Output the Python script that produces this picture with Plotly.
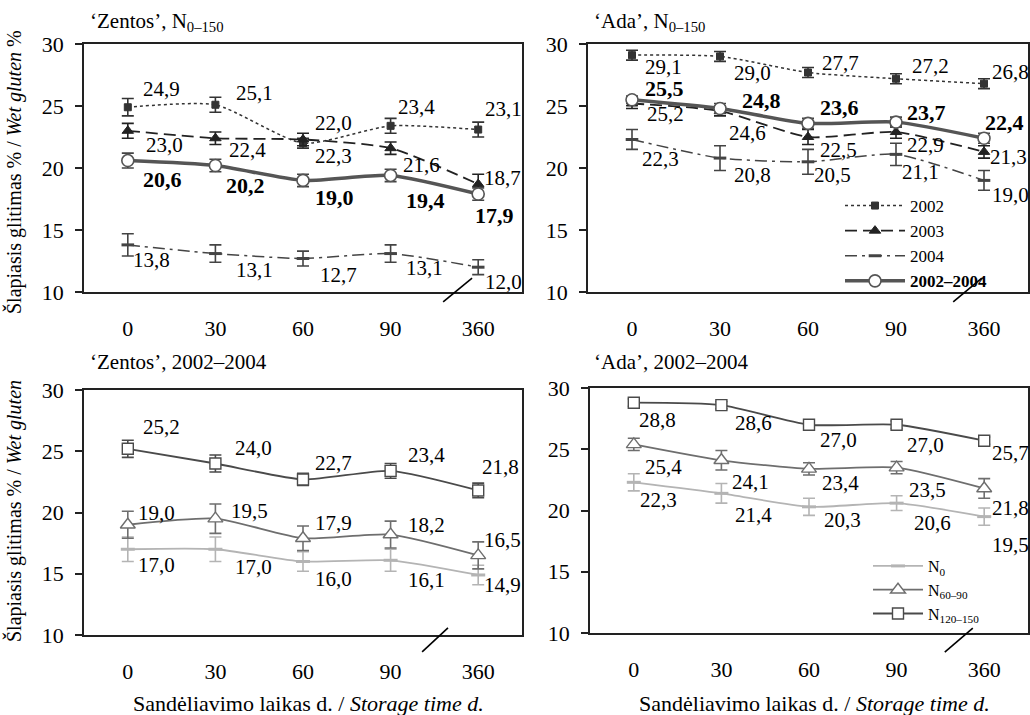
import plotly.graph_objects as go

days = ["0", "30", "60", "90", "360"]

# 'Zentos', N0-150, by year
zen_2002 = [24.9, 25.1, 22.0, 23.4, 23.1]
zen_2003 = [23.0, 22.4, 22.3, 21.6, 18.7]
zen_2004 = [13.8, 13.1, 12.7, 13.1, 12.0]
zen_mean = [20.6, 20.2, 19.0, 19.4, 17.9]
zen_2002_err = [0.7, 0.6, 0.4, 0.6, 0.6]
zen_2003_err = [0.6, 0.5, 0.5, 0.5, 0.8]
zen_2004_err = [0.9, 0.7, 0.6, 0.7, 0.6]
zen_mean_err = [0.6, 0.5, 0.5, 0.5, 0.5]

# 'Ada', N0-150, by year
ada_2002 = [29.1, 29.0, 27.7, 27.2, 26.8]
ada_2003 = [25.2, 24.6, 22.5, 22.9, 21.3]
ada_2004 = [22.3, 20.8, 20.5, 21.1, 19.0]
ada_mean = [25.5, 24.8, 23.6, 23.7, 22.4]
ada_2002_err = [0.4, 0.4, 0.4, 0.4, 0.4]
ada_2003_err = [0.4, 0.4, 0.6, 0.5, 0.5]
ada_2004_err = [0.8, 1.0, 1.0, 0.9, 0.8]
ada_mean_err = [0.3, 0.4, 0.4, 0.4, 0.4]

# 'Zentos', 2002-2004, by N rate
zen_n0 = [17.0, 17.0, 16.0, 16.1, 14.9]
zen_n60 = [19.0, 19.5, 17.9, 18.2, 16.5]
zen_n120 = [25.2, 24.0, 22.7, 23.4, 21.8]
zen_n0_err = [1.0, 1.0, 0.8, 0.9, 0.8]
zen_n60_err = [1.1, 1.2, 1.0, 1.1, 1.1]
zen_n120_err = [0.7, 0.7, 0.5, 0.6, 0.6]

# 'Ada', 2002-2004, by N rate
ada_n0 = [22.3, 21.4, 20.3, 20.6, 19.5]
ada_n60 = [25.4, 24.1, 23.4, 23.5, 21.8]
ada_n120 = [28.8, 28.6, 27.0, 27.0, 25.7]
ada_n0_err = [0.7, 0.8, 0.7, 0.6, 0.7]
ada_n60_err = [0.5, 0.8, 0.5, 0.5, 0.8]
ada_n120_err = [0.3, 0.3, 0.3, 0.3, 0.3]

FONT = '"Liberation Serif", "Times New Roman", Times, serif'
fig = go.Figure()


def lab(vals, ax, offs, bold=False, size=21):
    xr = "x" if ax == 1 else f"x{ax}"
    yr = "y" if ax == 1 else f"y{ax}"
    for i, (v, (dx, dy)) in enumerate(zip(vals, offs)):
        t = f"{v:.1f}".replace(".", ",")
        if bold:
            t = f"<b>{t}</b>"
        fig.add_annotation(x=i, y=v, xref=xr, yref=yr, text=t, showarrow=False,
                           xanchor="left", yanchor="middle", xshift=dx, yshift=-dy,
                           font=dict(family=FONT, size=size, color="black"))


def series(vals, err, ax, name, color, dash, width, symbol, msize, mline, mfill,
           legend=None, showlegend=False, ecolor=None):
    xr = "x" if ax == 1 else f"x{ax}"
    yr = "y" if ax == 1 else f"y{ax}"
    fig.add_trace(go.Scatter(
        x=days, y=vals, xaxis=xr, yaxis=yr, name=name, mode="lines+markers",
        line=dict(color=color, dash=dash, width=width, shape="spline", smoothing=0.6),
        marker=dict(symbol=symbol, size=msize, color=mfill,
                    line=dict(color=color, width=mline)),
        error_y=dict(type="data", array=err, visible=True, color=ecolor or color,
                     thickness=1.6, width=6),
        showlegend=showlegend, legend=legend))


# --- Top-left: Zentos N0-150
series(zen_2002, zen_2002_err, 1, "2002", "#333333", "dot", 1.5, "square", 7, 1, "#333333")
series(zen_2003, zen_2003_err, 1, "2003", "#222222", "12px,6px", 1.8, "triangle-up", 10, 1, "#222222")
series(zen_2004, zen_2004_err, 1, "2004", "#444444", "12px,5px,3px,5px", 1.5, "line-ew", 9, 3, "#444444")
series(zen_mean, zen_mean_err, 1, "2002–2004", "#555555", "solid", 3.5, "circle", 12, 1.6, "white", ecolor="#444444")

# --- Top-right: Ada N0-150
series(ada_2002, ada_2002_err, 2, "2002", "#333333", "dot", 1.5, "square", 7, 1, "#333333", legend="legend", showlegend=True)
series(ada_2003, ada_2003_err, 2, "2003", "#222222", "12px,6px", 1.8, "triangle-up", 10, 1, "#222222", legend="legend", showlegend=True)
series(ada_2004, ada_2004_err, 2, "2004", "#444444", "12px,5px,3px,5px", 1.5, "line-ew", 9, 3, "#444444", legend="legend", showlegend=True)
series(ada_mean, ada_mean_err, 2, "<b>2002–2004</b>", "#555555", "solid", 3.5, "circle", 12, 1.6, "white", legend="legend", showlegend=True, ecolor="#444444")

# --- Bottom-left: Zentos 2002-2004
series(zen_n0, zen_n0_err, 3, "N<sub>0</sub>", "#b4b4b4", "solid", 1.8, "line-ew", 10, 3, "#b4b4b4")
series(zen_n60, zen_n60_err, 3, "N<sub>60–90</sub>", "#6e6e6e", "solid", 1.8, "triangle-up", 13, 1.4, "white")
series(zen_n120, zen_n120_err, 3, "N<sub>120–150</sub>", "#4a4a4a", "solid", 1.8, "square", 11, 1.4, "white")

# --- Bottom-right: Ada 2002-2004
series(ada_n0, ada_n0_err, 4, "N<sub>0</sub>", "#b4b4b4", "solid", 1.8, "line-ew", 10, 3, "#b4b4b4", legend="legend2", showlegend=True)
series(ada_n60, ada_n60_err, 4, "N<sub>60–90</sub>", "#6e6e6e", "solid", 1.8, "triangle-up", 13, 1.4, "white", legend="legend2", showlegend=True)
series(ada_n120, ada_n120_err, 4, "N<sub>120–150</sub>", "#4a4a4a", "solid", 1.8, "square", 11, 1.4, "white", legend="legend2", showlegend=True)

# data labels (dx, dy in px; dy positive = down)
lab(zen_2002, 1, [(13, -18), (19, -12), (10, -20), (5, -19), (5, -21)])
lab(zen_2003, 1, [(16, 14), (12, 12), (10, 17), (10, 17), (4, -6)])
lab(zen_2004, 1, [(3, 15), (19, 16), (15, 16), (13, 14), (5, 15)])
lab(zen_mean, 1, [(13, 19), (9, 20), (10, 17), (13, 25), (-5, 21)], bold=True, size=22)

lab(ada_2002, 2, [(11, 12), (12, 17), (12, -10), (14, -13), (6, -12)])
lab(ada_2003, 2, [(13, 10), (7, 22), (10, 13), (9, 13), (4, 5)])
lab(ada_2004, 2, [(8, 20), (12, 17), (4, 13), (4, 18), (6, 15)])
lab(ada_mean, 2, [(11, -11), (20, -8), (10, -16), (9, -10), (-1, -16)], bold=True, size=22)

lab(zen_n120, 3, [(13, -22), (18, -15), (10, -16), (15, -16), (2, -23)])
lab(zen_n60, 3, [(8, -12), (14, -8), (10, -15), (15, -10), (4, -15)])
lab(zen_n0, 3, [(8, 16), (18, 18), (10, 17), (15, 20), (4, 10)])

lab(ada_n120, 4, [(3, 17), (12, 18), (9, 15), (8, 20), (6, 12)])
lab(ada_n60, 4, [(9, 23), (9, 22), (11, 14), (10, 22), (6, 20)])
lab(ada_n0, 4, [(4, 18), (12, 22), (13, 13), (15, 20), (6, 28)])

W, H = 1030, 715
doms = {
    1: ([84 / W, 522 / W], [1 - 292 / H, 1 - 44 / H]),
    2: ([588 / W, 1028 / W], [1 - 292 / H, 1 - 44 / H]),
    3: ([84 / W, 522 / W], [1 - 635 / H, 1 - 390 / H]),
    4: ([590 / W, 1028 / W], [1 - 633 / H, 1 - 388 / H]),
}
tickfont = dict(family=FONT, size=22, color="black")
for i, (dx, dy) in doms.items():
    sfx = "" if i == 1 else str(i)
    fig.layout[f"xaxis{sfx}"] = dict(
        domain=dx, anchor=f"y{sfx}", type="category", categoryorder="array",
        categoryarray=days, range=[-0.5, 4.5], showline=True, mirror=True,
        linecolor="#222222", linewidth=1.5, ticks="", showgrid=False, automargin=False,
        tickfont=tickfont, ticklabelstandoff=16, zeroline=False)
    fig.layout[f"yaxis{sfx}"] = dict(
        domain=dy, anchor=f"x{sfx}", range=[10, 30], tickvals=[10, 15, 20, 25, 30],
        showline=True, mirror=True, linecolor="#222222", linewidth=1.5,
        ticks="outside", ticklen=7, tickcolor="#222222", tickwidth=1.5, automargin=False,
        showgrid=False, zeroline=False, tickfont=tickfont, ticklabelstandoff=7)

# subplot titles
titles = ["‘Zentos’, N<sub>0–150</sub>", "‘Ada’, N<sub>0–150</sub>",
          "‘Zentos’, 2002–2004", "‘Ada’, 2002–2004"]
title_pos = [(88, 22), (592, 22), (88, 362), (592, 362)]
for t, (px, py) in zip(titles, title_pos):
    fig.add_annotation(x=px / W, y=1 - py / H, xref="paper", yref="paper", text=t,
                       showarrow=False, xanchor="left", yanchor="middle",
                       font=dict(family=FONT, size=21, color="black"))

# y axis titles
ytitles = ["Šlapiasis glitimas % / <i>Wet gluten</i> %",
           "Šlapiasis glitimas % / <i>Wet gluten</i>"]
for t, cy in zip(ytitles, (172, 511)):
    fig.add_annotation(x=14 / W, y=1 - cy / H, xref="paper", yref="paper", text=t,
                       showarrow=False, textangle=-90, xanchor="center", yanchor="middle",
                       font=dict(family=FONT, size=20, color="black"))

# x axis titles
xtitle = "Sandėliavimo laikas d. / <i>Storage time d.</i>"
for cx in (308, 814):
    fig.add_annotation(x=cx / W, y=1 - 703 / H, xref="paper", yref="paper", text=xtitle,
                       showarrow=False, xanchor="center", yanchor="middle",
                       font=dict(family=FONT, size=22, color="black"))

# axis break marks
breaks = {1: (0.82, -0.04, 0.886, 0.056), 2: (0.83, -0.04, 0.895, 0.056),
          3: (0.772, -0.069, 0.831, 0.029), 4: (0.81, -0.078, 0.874, 0.02)}
for i, (x0, y0, x1, y1) in breaks.items():
    sfx = "" if i == 1 else str(i)
    fig.add_shape(type="line", xref=f"x{sfx} domain", yref=f"y{sfx} domain",
                  x0=x0, y0=y0, x1=x1, y1=y1, line=dict(color="black", width=1.6))

fig.update_layout(
    width=W, height=H, autosize=False,
    margin=dict(l=0, r=0, t=0, b=0, pad=0, autoexpand=False),
    paper_bgcolor="white", plot_bgcolor="white",
    font=dict(family=FONT, color="black"),
    legend=dict(x=840 / W, y=1 - 188 / H, xanchor="left", yanchor="top",
                bgcolor="rgba(0,0,0,0)", font=dict(family=FONT, size=17),
                tracegroupgap=0, itemwidth=60),
    legend2=dict(x=868 / W, y=1 - 549 / H, xanchor="left", yanchor="top",
                 bgcolor="rgba(0,0,0,0)", font=dict(family=FONT, size=16),
                 tracegroupgap=0, itemwidth=50),
)

fig.write_html("out.html")
